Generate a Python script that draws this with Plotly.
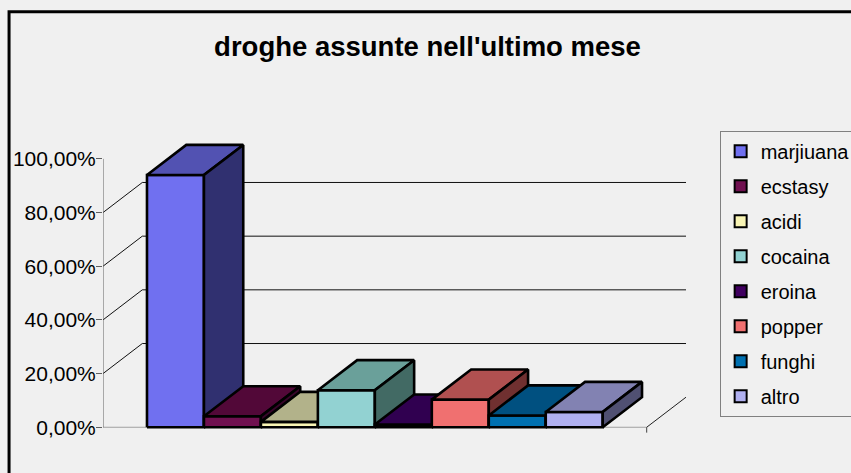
import plotly.graph_objects as go

# ---------------- data ----------------
categories = ["marjiuana", "ecstasy", "acidi", "cocaina", "eroina", "popper", "funghi", "altro"]
values = [0.940, 0.041, 0.020, 0.138, 0.010, 0.103, 0.044, 0.057]
tick_values = [0.0, 0.2, 0.4, 0.6, 0.8, 1.0]
tick_labels = ["0,00%", "20,00%", "40,00%", "60,00%", "80,00%", "100,00%"]
grid_values = [0.2, 0.4, 0.6, 0.8]
title_text = "droghe assunte nell'ultimo mese"

front_colors = ["#7070F0", "#701050", "#F8F4B4", "#92D2D2", "#400060", "#F07070", "#0070B0", "#B0B0F0"]
top_colors = ["#5252B2", "#520838", "#B2B28A", "#6AA09A", "#300050", "#B05050", "#005080", "#8282B2"]
side_colors = ["#303070", "#38052A", "#72725A", "#426A64", "#200036", "#703030", "#003050", "#505072"]

# ---------------- geometry (axis units) ----------------
DX = 0.69      # depth offset in bar widths
DY = 0.112     # depth offset in value units
GAP = 0.772    # floor margin either side of the bars
n = len(categories)
x_left = -0.5 - GAP
x_floor_right = n - 0.5 + GAP
x_back_right = x_floor_right + DX
y_min, y_max = -0.04, 1.0 + DY + 0.003

W, H = 851, 473
PXX, PXY = 57.0, 268.0
L_PX, Y0_PX = 103.0, 427.0
plot_w = (x_back_right - x_left) * PXX
plot_h = (y_max - y_min) * PXY
m_l = L_PX
m_r = W - m_l - plot_w
m_t = Y0_PX - y_max * PXY
m_b = H - m_t - plot_h


def paper_x(px):
    return (px - m_l) / plot_w


def paper_y(py):
    return (H - m_b - py) / plot_h


fig = go.Figure()


def add_lines(xs, ys, color, width):
    fig.add_trace(go.Scatter(x=xs, y=ys, mode="lines", line=dict(color=color, width=width),
                             hoverinfo="skip", showlegend=False))


def add_poly(xs, ys, fill, width=2.6):
    fig.add_trace(go.Scatter(x=xs + [xs[0]], y=ys + [ys[0]], mode="lines", fill="toself",
                             fillcolor=fill, line=dict(color="black", width=width),
                             hoverinfo="skip", showlegend=False))


# back wall gridlines + side wall diagonals
gx, gy = [], []
for g in grid_values:
    gx += [x_left + DX, x_back_right, None]
    gy += [g + DY, g + DY, None]
    gx += [x_left, x_left + DX, None]
    gy += [g, g + DY, None]
add_lines(gx, gy, "#101010", 1)

# floor front edge, right diagonal, end tick
add_lines([x_left, x_floor_right], [0, 0], "#A0A0A0", 1.2)
add_lines([x_floor_right, x_back_right], [0, DY], "#202020", 1)
add_lines([x_floor_right, x_floor_right], [0, -0.02], "#404040", 1)

# value axis line (front)
add_lines([x_left, x_left], [0, 1.0], "#606060", 1)

# 3D bars, left to right
for i, v in enumerate(values):
    x0, x1 = i - 0.5, i + 0.5
    add_poly([x0, x1, x1, x0], [0, 0, v, v], front_colors[i])
    add_poly([x0, x1, x1 + DX, x0 + DX], [v, v, v + DY, v + DY], top_colors[i])
    add_poly([x1, x1 + DX, x1 + DX, x1], [0, DY, v + DY, v], side_colors[i])

# legend entries
for i, c in enumerate(categories):
    fig.add_trace(go.Bar(x=[None], y=[None], name=c, legendgroup=c,
                         marker=dict(color=front_colors[i], line=dict(color="black", width=2)),
                         hoverinfo="skip"))

font_family = "Liberation Sans, Arial, sans-serif"

fig.update_layout(
    width=W, height=H, autosize=False,
    margin=dict(l=m_l, r=m_r, t=m_t, b=m_b, pad=0, autoexpand=False),
    paper_bgcolor="#F0F0F0", plot_bgcolor="#F0F0F0",
    font=dict(family=font_family, color="black"),
    title=dict(text=title_text, x=427.5 / W, xref="container", xanchor="center",
               y=1 - 46 / H, yref="container", yanchor="middle",
               font=dict(size=27.5, weight="bold", family=font_family, color="black")),
    showlegend=True,
    legend=dict(x=paper_x(720), y=paper_y(131), xanchor="left", yanchor="top",
                bgcolor="#F0F0F0", bordercolor="#808080", borderwidth=1,
                font=dict(size=20, family=font_family, color="black"),
                tracegroupgap=6, itemclick=False, itemdoubleclick=False),
    xaxis=dict(range=[x_left, x_back_right], visible=False, fixedrange=True),
    yaxis=dict(range=[y_min, y_max], showgrid=False, zeroline=False, showline=False,
               tickvals=tick_values, ticktext=tick_labels, ticks="outside", ticklen=6,
               tickcolor="#606060", tickwidth=1, tickfont=dict(size=21, family=font_family),
               ticklabelstandoff=-4, fixedrange=True),
    shapes=[dict(type="rect", xref="paper", yref="paper",
                 x0=paper_x(9), x1=paper_x(W + 40), y0=paper_y(12), y1=paper_y(H + 40),
                 line=dict(color="black", width=3), fillcolor="rgba(0,0,0,0)", layer="above")],
)

fig.write_html("out.html",
               config={"displayModeBar": False, "staticPlot": True},
               post_script="document.body.style.margin='0px';document.body.style.background='#F0F0F0';")
